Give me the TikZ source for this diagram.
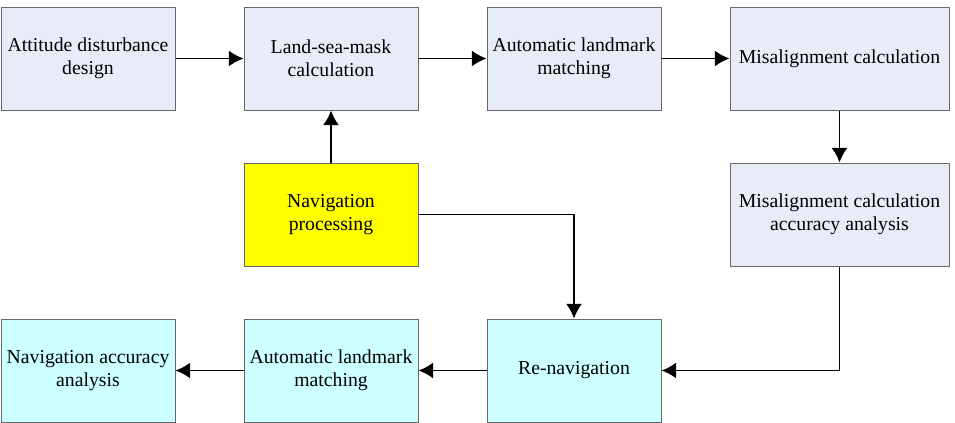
\documentclass[tikz,border=0pt]{standalone}
\usepackage{fontspec}
\setmainfont{Liberation Serif}
\usepackage{tikz}
\usetikzlibrary{arrows.meta, positioning}

\definecolor{boxblue}{HTML}{E8ECF8}
\definecolor{boxcyan}{HTML}{CCFFFF}
\definecolor{boxyellow}{HTML}{FFFF00}

\tikzset{
    stage/.style={draw=black!60, line width=0.75pt, minimum width=130.5pt,
        minimum height=77.25pt, inner sep=0pt, align=center,
        font=\fontsize{14.8}{17}\selectfont},
    flow/.style={->, line width=1.35pt}
}

\begin{document}
\begin{tikzpicture}[>={Latex[length=11pt,width=12pt]}, x=0.75pt, y=-0.75pt]
    \useasboundingbox (0,0) rectangle (955,422);
    % Hàng trên
    \node[stage, fill=boxblue] (att) at (88,58.5) {Attitude disturbance\\design};
    \node[stage, fill=boxblue] (lsm) at (331,58.5) {Land-sea-mask\\calculation};
    \node[stage, fill=boxblue] (alm) at (574,58.5) {Automatic landmark\\matching};
    \node[stage, fill=boxblue, minimum width=164.25pt] (mis) at (839.5,58.5) {Misalignment calculation};
    % Hàng giữa
    \node[stage, fill=boxyellow] (nav) at (331,214.5) {Navigation\\processing};
    \node[stage, fill=boxblue, minimum width=164.25pt] (acc) at (839.5,214.5) {Misalignment calculation\\accuracy analysis};
    % Hàng dưới
    \node[stage, fill=boxcyan] (navacc) at (88,370.5) {Navigation accuracy\\analysis};
    \node[stage, fill=boxcyan] (alm2) at (331,370.5) {Automatic landmark\\matching};
    \node[stage, fill=boxcyan] (renav) at (574,370.5) {Re-navigation};

    % Mũi tên
    \draw[flow] (att) -- (lsm);
    \draw[flow] (lsm) -- (alm);
    \draw[flow] (alm) -- (mis);
    \draw[flow] (mis) -- (acc);
    \draw[flow] (nav) -- (lsm);
    \draw[flow] (nav.east) -| (renav.north);
    \draw[flow] (acc.south) |- (renav.east);
    \draw[flow] (renav) -- (alm2);
    \draw[flow] (alm2) -- (navacc);
\end{tikzpicture}
\end{document}
